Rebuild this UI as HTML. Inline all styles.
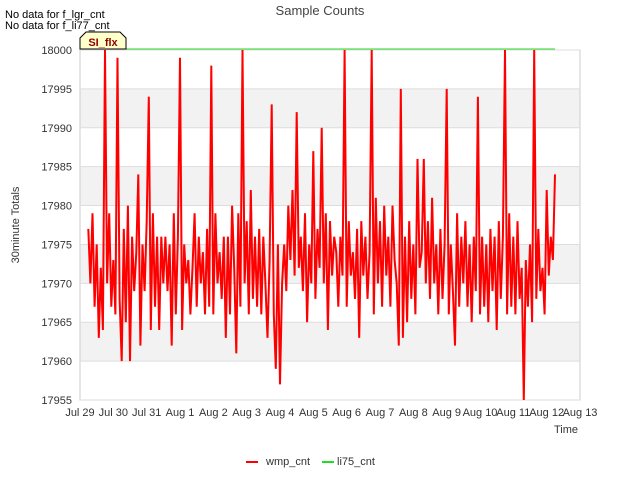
<!DOCTYPE html>
<html><head><meta charset="utf-8"><style>
body{margin:0;background:#fff;font-family:"Liberation Sans",sans-serif}
svg text{font-family:"Liberation Sans",sans-serif}
</style></head><body>
<svg id="chart" width="640" height="480">
<text x="320" y="15" text-anchor="middle" font-size="13" fill="#444">Sample Counts</text>
<text x="5" y="18" font-size="11" fill="#000">No data for f_lgr_cnt</text>
<text x="5" y="29" font-size="11" fill="#000">No data for f_li77_cnt</text>
<g id="bands"></g>
<rect x="80" y="50" width="500" height="350" fill="none" stroke="#ccc"/>
<g id="grid"></g>
<g id="yticks"></g>
<g id="xticks"></g>
<g id="series"></g>
<text transform="translate(19,225) rotate(-90)" text-anchor="middle" font-size="11" fill="#333">30minute Totals</text>
<text x="578" y="433" text-anchor="end" font-size="11" fill="#333">Time</text>
<g>
<path d="M80,49 L80,38 L86,32 L120,32 L126,38 L126,49 Z" fill="#ffffcc" stroke="#000"/>
<text x="103" y="46" text-anchor="middle" font-size="11" font-weight="bold" fill="#8b0000">SI_flx</text>
</g>
<g>
<line x1="246" y1="462" x2="258" y2="462" stroke="#f00" stroke-width="2"/>
<text x="266" y="465" font-size="11" fill="#333">wmp_cnt</text>
<line x1="322" y1="462" x2="334" y2="462" stroke="#22dd22" stroke-width="2"/>
<text x="337" y="465" font-size="11" fill="#333">li75_cnt</text>
</g>
</svg>
<script>
const xLabels=["Jul 29","Jul 30","Jul 31","Aug 1","Aug 2","Aug 3","Aug 4","Aug 5","Aug 6","Aug 7","Aug 8","Aug 9","Aug 10","Aug 11","Aug 12","Aug 13"];
const yTicks=[17955,17960,17965,17970,17975,17980,17985,17990,17995,18000];
const startDay=0.25, stepDay=0.0625;
const wmp=[17977,17970,17979,17967,17975,17963,17972,17964,18000,17970,
17979,17967,17973,17966,17999,17968,17960,17977,17965,17980,
17960,17976,17969,17974,17984,17962,17975,17969,17978,17994,
17964,17979,17967,17976,17964,17976,17970,17976,17969,17975,
17962,17979,17966,17976,17999,17964,17975,17970,17973,17966,
17972,17979,17967,17976,17970,17974,17966,17977,17967,17998,
17966,17979,17970,17974,17968,17976,17963,17976,17966,17980,
17972,17961,17979,17967,18000,17970,17978,17966,17982,17968,
17976,17967,17977,17966,17976,17970,17963,17973,17993,17966,
17959,17975,17957,17970,17975,17969,17980,17973,17982,17971,
17992,17972,17976,17969,17979,17965,17975,17970,17987,17968,
17977,17972,17990,17970,17979,17964,17978,17971,17976,17974,
17967,17976,17971,18000,17967,17978,17971,17974,17968,17977,
17963,17978,17971,17976,17968,17974,18000,17966,17981,17970,
17978,17967,17980,17971,17976,17967,17980,17973,17970,17962,
17995,17963,17976,17965,17978,17968,17975,17966,17986,17972,
17974,17986,17970,17978,17968,17981,17970,17975,17966,17977,
17968,17975,17995,17966,17975,17969,17962,17979,17967,17976,
17970,17978,17967,17975,17965,17976,17969,17994,17966,17976,
17967,17975,17965,17977,17969,17976,17964,17978,17968,17976,
18000,17966,17979,17967,17976,17966,17978,17968,17972,17955,
17973,17967,17975,17965,18000,17968,17977,17969,17972,17966,
17982,17971,17976,17973,17984];
const li75Value=[18000,18000];
const li75Days=[0,14.25];
const X=d=>80+d*(500/15), Y=v=>400-(v-17955)*(350/45);
const NS="http://www.w3.org/2000/svg";
function mk(p,t,a){const e=document.createElementNS(NS,t);for(const k in a)e.setAttribute(k,a[k]);document.getElementById(p).appendChild(e);return e;}
for(let i=0;i<yTicks.length-1;i++){
 if(i%2==1){const r=mk('bands','rect',{x:80,y:Y(yTicks[i+1]),width:500,height:Y(yTicks[i])-Y(yTicks[i+1]),fill:'#f2f2f2'});
 
 }
}
yTicks.forEach(v=>{
 const l=mk('grid','line',{x1:80,x2:580,y1:Y(v),y2:Y(v),stroke:'#ddd'});
 
 
 const t=mk('yticks','text',{x:72,y:Y(v)+4,'text-anchor':'end','font-size':11,fill:'#333'});t.textContent=v;
 
 
});
xLabels.forEach((s,i)=>{
 const t=mk('xticks','text',{x:X(i),y:416,'text-anchor':'middle','font-size':11,fill:'#333'});t.textContent=s;
 
 
});
const pts=wmp.map((v,i)=>X(startDay+i*stepDay).toFixed(1)+','+Y(v).toFixed(1)).join(' ');
const pl=mk('series','polyline',{points:pts,fill:'none',stroke:'#f00','stroke-width':2});


const gl=mk('series','polyline',{points:li75Days.map((d,i)=>X(d)+','+(Y(li75Value[i])-1)).join(' '),fill:'none',stroke:'#22dd22','stroke-width':1});


</script>
</body></html>
